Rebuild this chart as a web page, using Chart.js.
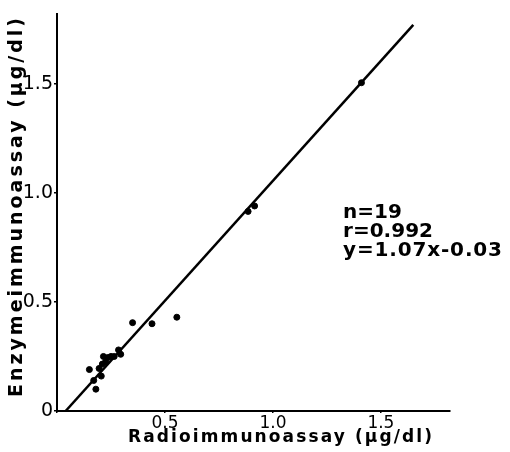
<!DOCTYPE html>
<html>
<head>
<meta charset="utf-8">
<script src="https://cdn.jsdelivr.net/npm/chart.js@4.4.1/dist/chart.umd.min.js"></script>
<style>
  body { margin: 0; background: #fff; }
  #wrap { width: 510px; height: 452px; }
</style>
</head>
<body>
<div id="wrap"><canvas id="chart" width="510" height="452"></canvas></div>
<script>
// Radioimmunoassay (x) vs Enzymeimmunoassay (y), ug/dl
const riaValues = [0.15, 0.17, 0.18, 0.195, 0.205, 0.21, 0.215, 0.225, 0.235, 0.25, 0.265, 0.285, 0.295,
                   0.35, 0.44, 0.555, 0.885, 0.915, 1.41];
const eiaValues = [0.19, 0.14, 0.10, 0.195, 0.16, 0.215, 0.25, 0.225, 0.245, 0.25, 0.25, 0.28, 0.26,
                   0.405, 0.40, 0.43, 0.915, 0.94, 1.505];
// regression line y = 1.07x - 0.03, end points
const fitX = [0.04, 1.65];
const fitY = [0.0, 1.77];
const tickValues = [0, 0.5, 1.0, 1.5];
const statsLines = ['n=19', 'r=0.992', 'y=1.07x-0.03'];
const xTitle = 'Radioimmunoassay (µg/dl)';
const yTitle = 'Enzymeimmunoassay (µg/dl)';

const FONT = '"DejaVu Sans", sans-serif';

function spacedText(ctx, text, x, y, targetWidth) {
    ctx.letterSpacing = '0px';
    const w = ctx.measureText(text).width;
    const sp = Math.max(0, (targetWidth - w) / (text.length - 1));
    ctx.letterSpacing = sp + 'px';
    ctx.fillText(text, x, y);
    ctx.letterSpacing = '0px';
}

const textPlugin = {
    id: 'textPlugin',
    afterDraw(chart) {
        const ctx = chart.ctx;
        ctx.save();
        ctx.fillStyle = '#000';
        ctx.textBaseline = 'middle';

        // x axis title
        ctx.font = 'bold 17px ' + FONT;
        ctx.textAlign = 'left';
        spacedText(ctx, xTitle, 128, 438, 304);

        // y axis title, rotated
        ctx.save();
        ctx.translate(17, 397);
        ctx.rotate(-Math.PI / 2);
        ctx.font = 'bold 19px ' + FONT;
        spacedText(ctx, yTitle, 0, 0, 379);
        ctx.restore();

        // stats block
        ctx.font = 'bold 20px ' + FONT;
        const widths = [52, 90, 159];
        statsLines.forEach((s, i) => {
            spacedText(ctx, s, 343, 213 + i * 19, widths[i]);
        });
        ctx.restore();
    }
};

const ctx = document.getElementById('chart').getContext('2d');
new Chart(ctx, {
    type: 'scatter',
    data: {
        datasets: [
            {
                label: 'samples',
                data: riaValues.map((v, i) => ({ x: v, y: eiaValues[i] })),
                backgroundColor: '#000',
                borderColor: '#000',
                pointRadius: 3,
                pointHoverRadius: 3
            },
            {
                label: 'fit',
                type: 'line',
                data: fitX.map((v, i) => ({ x: v, y: fitY[i] })),
                borderColor: '#000',
                borderWidth: 2.5,
                pointRadius: 0,
                fill: false
            }
        ]
    },
    options: {
        responsive: false,
        animation: false,
        layout: { padding: { left: 0, top: 14, right: 60, bottom: 0 } },
        plugins: {
            legend: { display: false },
            tooltip: { enabled: false }
        },
        scales: {
            x: {
                type: 'linear',
                min: 0,
                max: 1.82,
                afterFit: (s) => { s.height = 41; },
                afterBuildTicks: (s) => { s.ticks = tickValues.map(v => ({ value: v })); },
                border: { display: true, color: '#000', width: 2 },
                grid: { display: true, drawOnChartArea: false, drawTicks: true, tickLength: 2, color: '#000', lineWidth: 1.5 },
                ticks: {
                    color: '#000',
                    padding: 0,
                    font: { family: FONT, size: 17 },
                    callback: (v) => v === 0 ? '' : v.toFixed(1)
                }
            },
            y: {
                type: 'linear',
                min: 0,
                max: 1.82,
                afterFit: (s) => { s.width = 57; },
                afterBuildTicks: (s) => { s.ticks = tickValues.map(v => ({ value: v })); },
                border: { display: true, color: '#000', width: 2 },
                grid: { display: true, drawOnChartArea: false, drawTicks: true, tickLength: 3, color: '#000', lineWidth: 1.5 },
                ticks: {
                    color: '#000',
                    padding: 1,
                    font: { family: FONT, size: 19 },
                    callback: (v) => v === 0 ? '0' : v.toFixed(1)
                }
            }
        }
    },
    plugins: [textPlugin]
});
</script>
</body>
</html>
